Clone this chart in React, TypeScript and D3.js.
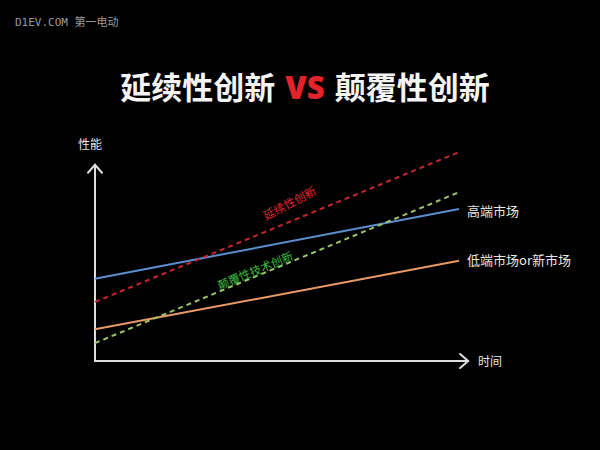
import * as d3 from "d3";

// time axis positions of each line's two ends
const times = [0, 10];

// performance values (start, end) for each line
const highEnd = [3.9, 7.2];
const lowEnd = [1.5, 4.75];
const sustaining = [2.8, 9.9];
const disruptive = [0.85, 8.0];

const title = ["延续性创新", "VS", "颠覆性创新"];
const axisLabels = { y: "性能", x: "时间" };
const seriesLabels = { high: "高端市场", low: "低端市场or新市场" };
const lineLabels = { sustaining: "延续性创新", disruptive: "颠覆性技术创新" };
const watermark = "D1EV.COM 第一电动";

const W = 600;
const H = 450;
const cjk = "'Noto Sans CJK SC', 'Noto Sans', sans-serif";

export default function App() {
  const x = d3.scaleLinear().domain([0, 10]).range([95, 459]);
  const y = d3.scaleLinear().domain([0, 10]).range([361, 150]);

  const line = d3
    .line<[number, number]>()
    .x((d) => x(d[0]))
    .y((d) => y(d[1]));

  const pts = (vals: number[]) => times.map((t, i) => [t, vals[i]] as [number, number]);

  const x0 = x(0);
  const y0 = y(0);
  const xEnd = x(10.25);
  const yTop = y(9.3);

  // angle of a series in screen space
  const angle = (vals: number[]) =>
    (Math.atan2(y(vals[1]) - y(vals[0]), x(10) - x(0)) * 180) / Math.PI;

  return (
    <svg
      width={W}
      height={H}
      viewBox={`0 0 ${W} ${H}`}
      style={{ position: "absolute", left: 0, top: 0, background: "#000" }}
    >
      <rect width={W} height={H} fill="#000" />
      <text
        x={15}
        y={26}
        fill="#9a9a9a"
        fontSize={11}
        fontFamily="'DejaVu Sans Mono', 'Noto Sans CJK SC', monospace"
      >
        {watermark}
      </text>

      {/* title */}
      <text
        x={W / 2 + 5}
        y={99}
        textAnchor="middle"
        fontSize={31}
        fontWeight={700}
        fontFamily={cjk}
        fill="#f4f4f4"
      >
        {title[0]}
        <tspan fill="#e3232a" dx={10} fontFamily="'Open Sans', 'Noto Sans', sans-serif" fontWeight={800}>
          {title[1]}
        </tspan>
        <tspan dx={10}>{title[2]}</tspan>
      </text>

      {/* axes */}
      <g stroke="#dedede" strokeWidth={2} fill="none" strokeLinecap="round">
        <line x1={x0} y1={y0} x2={x0} y2={yTop} />
        <polyline points={`${x0 - 7},${yTop + 8} ${x0},${yTop} ${x0 + 7},${yTop + 8}`} />
        <line x1={x0} y1={y0} x2={xEnd} y2={y0} />
        <polyline points={`${xEnd - 8},${y0 - 7} ${xEnd},${y0} ${xEnd - 8},${y0 + 7}`} />
      </g>
      <text x={x0 - 17} y={yTop - 16} fill="#e8e8e8" fontSize={12} fontFamily={cjk}>
        {axisLabels.y}
      </text>
      <text x={xEnd + 10} y={y0 + 5} fill="#e8e8e8" fontSize={12} fontFamily={cjk}>
        {axisLabels.x}
      </text>

      {/* series lines */}
      <path d={line(pts(highEnd)) ?? ""} stroke="#5b8fcf" strokeWidth={2} fill="none" />
      <path d={line(pts(lowEnd)) ?? ""} stroke="#e99a68" strokeWidth={2} fill="none" />
      <path
        d={line(pts(sustaining)) ?? ""}
        stroke="#c8262b"
        strokeWidth={2}
        strokeDasharray="5 4"
        fill="none"
      />
      <path
        d={line(pts(disruptive)) ?? ""}
        stroke="#9dc468"
        strokeWidth={2}
        strokeDasharray="5 4"
        fill="none"
      />

      {/* end labels */}
      <text
        x={x(10) + 8}
        y={y(highEnd[1]) + 7}
        fill="#e8e8e8"
        fontSize={13}
        fontFamily={cjk}
      >
        {seriesLabels.high}
      </text>
      <text
        x={x(10) + 8}
        y={y(lowEnd[1]) + 4}
        fill="#e8e8e8"
        fontSize={13}
        fontFamily={cjk}
      >
        {seriesLabels.low}
      </text>

      {/* on-line labels */}
      <text
        transform={`translate(${x(5.4)},${y(7.3)}) rotate(${angle(sustaining) - 5})`}
        textAnchor="middle"
        fill="#e3262b"
        fontSize={11.5}
        fontFamily={cjk}
      >
        {lineLabels.sustaining}
      </text>
      <text
        transform={`translate(${x(4.45)},${y(4.1)}) rotate(${angle(disruptive)})`}
        textAnchor="middle"
        fill="#3dbb3d"
        fontSize={11.5}
        fontFamily={cjk}
      >
        {lineLabels.disruptive}
      </text>
    </svg>
  );
}
